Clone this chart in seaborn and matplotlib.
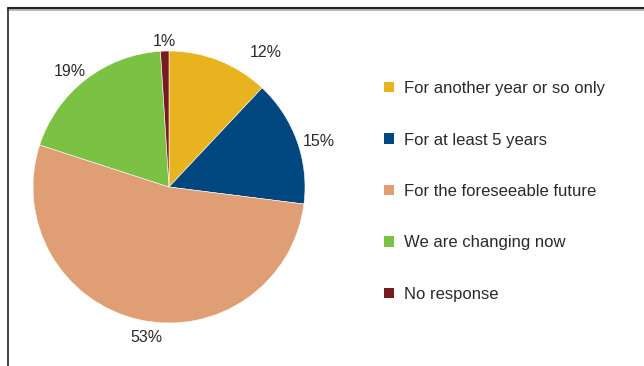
import matplotlib
matplotlib.use("Agg")
import matplotlib.pyplot as plt
from matplotlib.lines import Line2D
from matplotlib.patches import Patch
import numpy as np
import seaborn as sns

categories = [
    "For another year or so only",
    "For at least 5 years",
    "For the foreseeable future",
    "We are changing now",
    "No response",
]
shares = [12, 15, 53, 19, 1]
pct_labels = ["12%", "15%", "53%", "19%", "1%"]
colors = ["#E8B31E", "#00467F", "#DF9E73", "#7BC143", "#761C20"]

sns.set_theme(style="white")
plt.rcParams["font.family"] = ["Liberation Sans", "DejaVu Sans"]

W, H = 644, 366
fig = plt.figure(figsize=(W / 100, H / 100), dpi=100)
fig.patch.set_facecolor("white")

# pie centred at (169, 187) px with radius 136 px
cx, cy, r = 169, 187, 136
ax = fig.add_axes([(cx - r) / W, (H - cy - r) / H, 2 * r / W, 2 * r / H])
palette = sns.color_palette(colors)
wedges, _ = ax.pie(
    shares,
    colors=palette,
    startangle=90,
    counterclock=False,
    wedgeprops=dict(edgecolor="white", linewidth=0.4),
    radius=1.0,
)
ax.set_xlim(-1, 1)
ax.set_ylim(-1, 1)
ax.set_aspect("equal")
ax.axis("off")

# percentage labels placed around each wedge's middle angle
angle_shift = [-14, -3, 4, 3, 0]
dist = [1.22, 1.15, 1.12, 1.12, 1.07]
for w, lab, da, d in zip(wedges, pct_labels, angle_shift, dist):
    mid = np.deg2rad((w.theta1 + w.theta2) / 2 + da)
    ax.text(d * np.cos(mid), d * np.sin(mid), lab, ha="center", va="center",
            fontsize=11.5, color="#2a2a2a")

handles = [Patch(facecolor=c, edgecolor="none") for c in palette]
leg = fig.legend(
    handles, categories,
    loc="upper left",
    bbox_to_anchor=(369 / W, 1 - 66 / H),
    frameon=False,
    fontsize=12,
    handlelength=0.6,
    handleheight=0.6,
    handletextpad=0.62,
    labelspacing=2.19,
    labelcolor="#2a2a2a",
)

# frame: top and left rules
fig.add_artist(Line2D([8 / W, 1], [1 - 9.5 / H, 1 - 9.5 / H], transform=fig.transFigure,
                      color="#aaaaaa", lw=1.2))
fig.add_artist(Line2D([8 / W, 1], [1 - 8 / H, 1 - 8 / H], transform=fig.transFigure,
                      color="#222222", lw=1.5))
fig.add_artist(Line2D([8 / W, 8 / W], [0, 1 - 8 / H], transform=fig.transFigure,
                      color="#222222", lw=1.2))

fig.savefig("out.png", dpi=100, facecolor="white")
